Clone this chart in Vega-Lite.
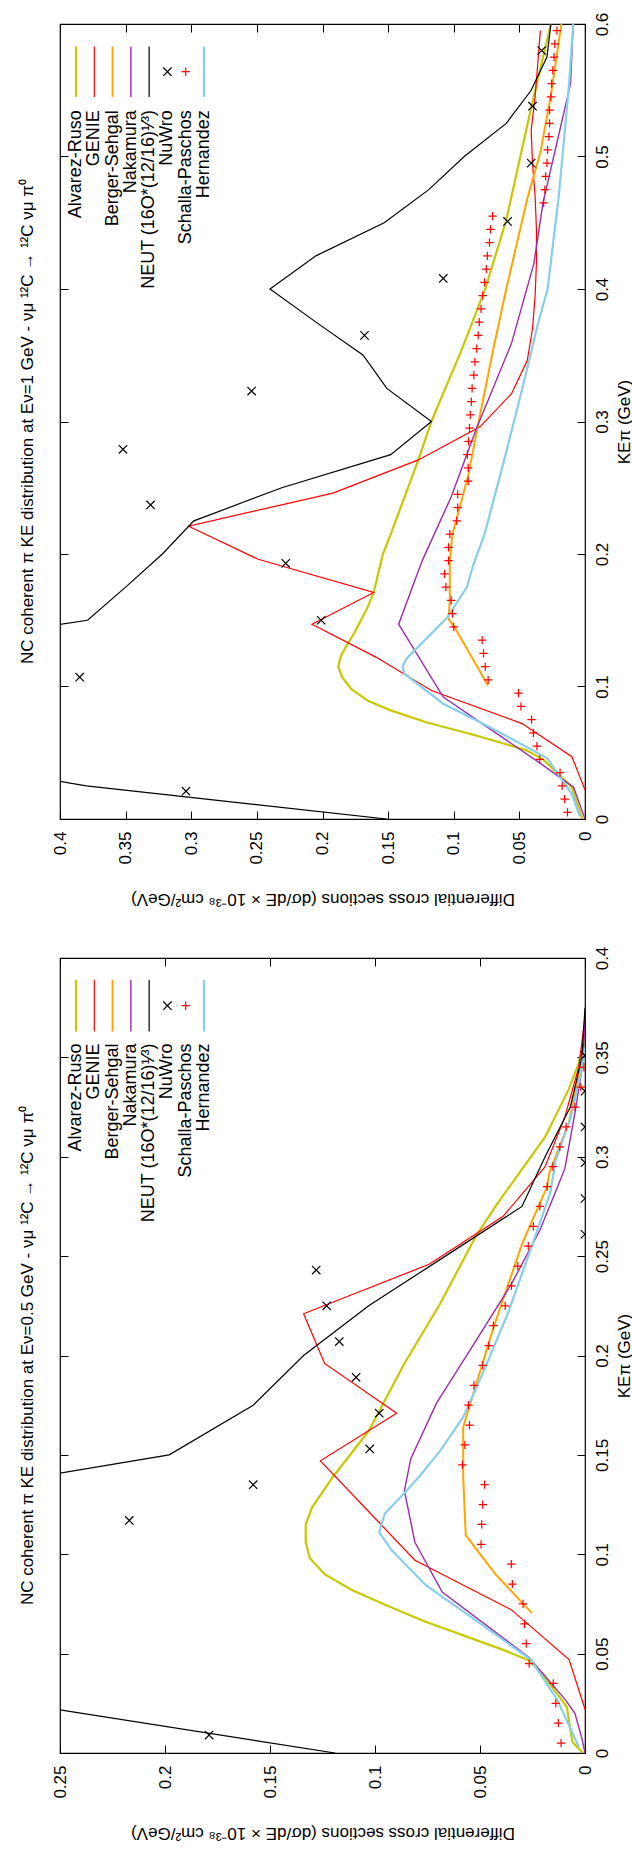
{
"$schema": "https://vega.github.io/schema/vega-lite/v6.json",
"padding": {"left": 18, "top": 11, "right": 0, "bottom": 0},
"spacing": 37,
"config": {
  "font": "Liberation Sans",
  "view": {"stroke": "black", "strokeWidth": 1.2},
  "axis": {"grid": false, "domain": false, "labelFontSize": 17, "titleFontSize": 17, "labelColor": "black", "titleColor": "black", "titleFontWeight": "normal", "tickColor": "black", "tickSize": -8, "tickWidth": 1, "labelFlush": false, "labelOverlap": false, "labelBound": false, "labelFont": "Liberation Sans", "titleFont": "Liberation Sans"},
  "title": {"fontSize": 17, "fontWeight": "normal", "color": "black", "font": "Liberation Sans"},
  "text": {"font": "Liberation Sans", "color": "black"}
},
"datasets": {
"leg": [{"m":"Alvarez-Ruso"},{"m":"GENIE"},{"m":"Berger-Sehgal"},{"m":"Nakamura"},{"m":"NEUT (16O*(12/16)¹⁄³)"},{"m":"NuWro"},{"m":"Schalla-Paschos"},{"m":"Hernandez"}],
"e1": [
{"m":"Alvarez-Ruso","ke":0,"xs":0.002},{"m":"Alvarez-Ruso","ke":0.024,"xs":0.010},{"m":"Alvarez-Ruso","ke":0.045,"xs":0.032},{"m":"Alvarez-Ruso","ke":0.052,"xs":0.045},{"m":"Alvarez-Ruso","ke":0.063,"xs":0.083},{"m":"Alvarez-Ruso","ke":0.073,"xs":0.121},{"m":"Alvarez-Ruso","ke":0.082,"xs":0.148},{"m":"Alvarez-Ruso","ke":0.089,"xs":0.165},{"m":"Alvarez-Ruso","ke":0.098,"xs":0.178},{"m":"Alvarez-Ruso","ke":0.107,"xs":0.185},{"m":"Alvarez-Ruso","ke":0.115,"xs":0.188},{"m":"Alvarez-Ruso","ke":0.123,"xs":0.186},{"m":"Alvarez-Ruso","ke":0.132,"xs":0.181},{"m":"Alvarez-Ruso","ke":0.14,"xs":0.176},{"m":"Alvarez-Ruso","ke":0.159,"xs":0.166},{"m":"Alvarez-Ruso","ke":0.171,"xs":0.161},{"m":"Alvarez-Ruso","ke":0.2,"xs":0.154},{"m":"Alvarez-Ruso","ke":0.215,"xs":0.148},{"m":"Alvarez-Ruso","ke":0.271,"xs":0.127},{"m":"Alvarez-Ruso","ke":0.3,"xs":0.117},{"m":"Alvarez-Ruso","ke":0.319,"xs":0.109},{"m":"Alvarez-Ruso","ke":0.354,"xs":0.094},{"m":"Alvarez-Ruso","ke":0.4,"xs":0.076},{"m":"Alvarez-Ruso","ke":0.452,"xs":0.060},{"m":"Alvarez-Ruso","ke":0.537,"xs":0.041},{"m":"Alvarez-Ruso","ke":0.6,"xs":0.026},
{"m":"GENIE","ke":0.022,"xs":0},{"m":"GENIE","ke":0.047,"xs":0.010},{"m":"GENIE","ke":0.072,"xs":0.048},{"m":"GENIE","ke":0.097,"xs":0.117},{"m":"GENIE","ke":0.122,"xs":0.159},{"m":"GENIE","ke":0.147,"xs":0.208},{"m":"GENIE","ke":0.171,"xs":0.161},{"m":"GENIE","ke":0.196,"xs":0.249},{"m":"GENIE","ke":0.221,"xs":0.302},{"m":"GENIE","ke":0.246,"xs":0.192},{"m":"GENIE","ke":0.271,"xs":0.127},{"m":"GENIE","ke":0.296,"xs":0.080},{"m":"GENIE","ke":0.321,"xs":0.056},{"m":"GENIE","ke":0.346,"xs":0.044},{"m":"GENIE","ke":0.37,"xs":0.040},{"m":"GENIE","ke":0.395,"xs":0.038},{"m":"GENIE","ke":0.42,"xs":0.037},{"m":"GENIE","ke":0.445,"xs":0.037},{"m":"GENIE","ke":0.47,"xs":0.038},{"m":"GENIE","ke":0.495,"xs":0.040},{"m":"GENIE","ke":0.52,"xs":0.041},{"m":"GENIE","ke":0.545,"xs":0.038},{"m":"GENIE","ke":0.57,"xs":0.036},{"m":"GENIE","ke":0.595,"xs":0.034},
{"m":"Berger-Sehgal","ke":0.101,"xs":0.074},{"m":"Berger-Sehgal","ke":0.145,"xs":0.0996},{"m":"Berger-Sehgal","ke":0.151,"xs":0.104},{"m":"Berger-Sehgal","ke":0.165,"xs":0.103},{"m":"Berger-Sehgal","ke":0.195,"xs":0.103},{"m":"Berger-Sehgal","ke":0.215,"xs":0.101},{"m":"Berger-Sehgal","ke":0.259,"xs":0.089},{"m":"Berger-Sehgal","ke":0.3,"xs":0.081},{"m":"Berger-Sehgal","ke":0.354,"xs":0.070},{"m":"Berger-Sehgal","ke":0.4,"xs":0.060},{"m":"Berger-Sehgal","ke":0.468,"xs":0.044},{"m":"Berger-Sehgal","ke":0.503,"xs":0.034},{"m":"Berger-Sehgal","ke":0.546,"xs":0.026},{"m":"Berger-Sehgal","ke":0.6,"xs":0.018},
{"m":"Nakamura","ke":0,"xs":0},{"m":"Nakamura","ke":0.024,"xs":0.0087},{"m":"Nakamura","ke":0.042,"xs":0.034},{"m":"Nakamura","ke":0.092,"xs":0.108},{"m":"Nakamura","ke":0.147,"xs":0.142},{"m":"Nakamura","ke":0.195,"xs":0.124},{"m":"Nakamura","ke":0.243,"xs":0.102},{"m":"Nakamura","ke":0.294,"xs":0.083},{"m":"Nakamura","ke":0.359,"xs":0.056},{"m":"Nakamura","ke":0.419,"xs":0.039},{"m":"Nakamura","ke":0.465,"xs":0.032},{"m":"Nakamura","ke":0.555,"xs":0.011},{"m":"Nakamura","ke":0.6,"xs":0.009},
{"m":"NEUT (16O*(12/16)¹⁄³)","ke":0,"xs":0.151},{"m":"NEUT (16O*(12/16)¹⁄³)","ke":0.025,"xs":0.38},{"m":"NEUT (16O*(12/16)¹⁄³)","ke":0.05,"xs":0.53},{"m":"NEUT (16O*(12/16)¹⁄³)","ke":0.075,"xs":0.6},{"m":"NEUT (16O*(12/16)¹⁄³)","ke":0.1,"xs":0.6},{"m":"NEUT (16O*(12/16)¹⁄³)","ke":0.125,"xs":0.55},{"m":"NEUT (16O*(12/16)¹⁄³)","ke":0.15,"xs":0.379},{"m":"NEUT (16O*(12/16)¹⁄³)","ke":0.175,"xs":0.35},{"m":"NEUT (16O*(12/16)¹⁄³)","ke":0.2,"xs":0.322},{"m":"NEUT (16O*(12/16)¹⁄³)","ke":0.225,"xs":0.298},{"m":"NEUT (16O*(12/16)¹⁄³)","ke":0.25,"xs":0.231},{"m":"NEUT (16O*(12/16)¹⁄³)","ke":0.275,"xs":0.148},{"m":"NEUT (16O*(12/16)¹⁄³)","ke":0.3,"xs":0.117},{"m":"NEUT (16O*(12/16)¹⁄³)","ke":0.325,"xs":0.151},{"m":"NEUT (16O*(12/16)¹⁄³)","ke":0.35,"xs":0.169},{"m":"NEUT (16O*(12/16)¹⁄³)","ke":0.375,"xs":0.205},{"m":"NEUT (16O*(12/16)¹⁄³)","ke":0.4,"xs":0.240},{"m":"NEUT (16O*(12/16)¹⁄³)","ke":0.425,"xs":0.205},{"m":"NEUT (16O*(12/16)¹⁄³)","ke":0.45,"xs":0.153},{"m":"NEUT (16O*(12/16)¹⁄³)","ke":0.475,"xs":0.119},{"m":"NEUT (16O*(12/16)¹⁄³)","ke":0.5,"xs":0.092},{"m":"NEUT (16O*(12/16)¹⁄³)","ke":0.525,"xs":0.060},{"m":"NEUT (16O*(12/16)¹⁄³)","ke":0.55,"xs":0.041},{"m":"NEUT (16O*(12/16)¹⁄³)","ke":0.575,"xs":0.029},{"m":"NEUT (16O*(12/16)¹⁄³)","ke":0.6,"xs":0.026},
{"m":"NuWro","ke":0.021,"xs":0.304},{"m":"NuWro","ke":0.107,"xs":0.385},{"m":"NuWro","ke":0.150,"xs":0.201},{"m":"NuWro","ke":0.193,"xs":0.228},{"m":"NuWro","ke":0.237,"xs":0.331},{"m":"NuWro","ke":0.279,"xs":0.352},{"m":"NuWro","ke":0.323,"xs":0.254},{"m":"NuWro","ke":0.365,"xs":0.168},{"m":"NuWro","ke":0.408,"xs":0.108},{"m":"NuWro","ke":0.451,"xs":0.059},{"m":"NuWro","ke":0.495,"xs":0.041},{"m":"NuWro","ke":0.538,"xs":0.040},{"m":"NuWro","ke":0.580,"xs":0.033},
{"m":"Schalla-Paschos","ke":0.005,"xs":0.0133},{"m":"Schalla-Paschos","ke":0.015,"xs":0.0155},{"m":"Schalla-Paschos","ke":0.025,"xs":0.0174},{"m":"Schalla-Paschos","ke":0.035,"xs":0.019},{"m":"Schalla-Paschos","ke":0.045,"xs":0.0345},{"m":"Schalla-Paschos","ke":0.055,"xs":0.0366},{"m":"Schalla-Paschos","ke":0.065,"xs":0.0393},{"m":"Schalla-Paschos","ke":0.075,"xs":0.0407},{"m":"Schalla-Paschos","ke":0.085,"xs":0.0488},{"m":"Schalla-Paschos","ke":0.095,"xs":0.0507},{"m":"Schalla-Paschos","ke":0.105,"xs":0.0738},{"m":"Schalla-Paschos","ke":0.115,"xs":0.076},{"m":"Schalla-Paschos","ke":0.125,"xs":0.0773},{"m":"Schalla-Paschos","ke":0.135,"xs":0.0784},{"m":"Schalla-Paschos","ke":0.145,"xs":0.100},{"m":"Schalla-Paschos","ke":0.155,"xs":0.101},{"m":"Schalla-Paschos","ke":0.165,"xs":0.102},{"m":"Schalla-Paschos","ke":0.175,"xs":0.106},{"m":"Schalla-Paschos","ke":0.185,"xs":0.107},{"m":"Schalla-Paschos","ke":0.195,"xs":0.104},{"m":"Schalla-Paschos","ke":0.205,"xs":0.104},{"m":"Schalla-Paschos","ke":0.215,"xs":0.103},{"m":"Schalla-Paschos","ke":0.225,"xs":0.0977},{"m":"Schalla-Paschos","ke":0.235,"xs":0.097},{"m":"Schalla-Paschos","ke":0.245,"xs":0.097},{"m":"Schalla-Paschos","ke":0.255,"xs":0.089},{"m":"Schalla-Paschos","ke":0.265,"xs":0.089},{"m":"Schalla-Paschos","ke":0.275,"xs":0.0896},{"m":"Schalla-Paschos","ke":0.285,"xs":0.0887},{"m":"Schalla-Paschos","ke":0.295,"xs":0.088},{"m":"Schalla-Paschos","ke":0.305,"xs":0.0874},{"m":"Schalla-Paschos","ke":0.315,"xs":0.0866},{"m":"Schalla-Paschos","ke":0.325,"xs":0.086},{"m":"Schalla-Paschos","ke":0.335,"xs":0.0847},{"m":"Schalla-Paschos","ke":0.345,"xs":0.0839},{"m":"Schalla-Paschos","ke":0.355,"xs":0.0825},{"m":"Schalla-Paschos","ke":0.365,"xs":0.0814},{"m":"Schalla-Paschos","ke":0.375,"xs":0.0806},{"m":"Schalla-Paschos","ke":0.385,"xs":0.0792},{"m":"Schalla-Paschos","ke":0.395,"xs":0.0779},{"m":"Schalla-Paschos","ke":0.405,"xs":0.0765},{"m":"Schalla-Paschos","ke":0.415,"xs":0.0752},{"m":"Schalla-Paschos","ke":0.425,"xs":0.0744},{"m":"Schalla-Paschos","ke":0.435,"xs":0.0728},{"m":"Schalla-Paschos","ke":0.445,"xs":0.072},{"m":"Schalla-Paschos","ke":0.455,"xs":0.0704},{"m":"Schalla-Paschos","ke":0.465,"xs":0.0315},{"m":"Schalla-Paschos","ke":0.475,"xs":0.0306},{"m":"Schalla-Paschos","ke":0.485,"xs":0.030},{"m":"Schalla-Paschos","ke":0.495,"xs":0.029},{"m":"Schalla-Paschos","ke":0.505,"xs":0.0285},{"m":"Schalla-Paschos","ke":0.515,"xs":0.0275},{"m":"Schalla-Paschos","ke":0.525,"xs":0.027},{"m":"Schalla-Paschos","ke":0.535,"xs":0.027},{"m":"Schalla-Paschos","ke":0.545,"xs":0.026},{"m":"Schalla-Paschos","ke":0.555,"xs":0.0254},{"m":"Schalla-Paschos","ke":0.565,"xs":0.0245},{"m":"Schalla-Paschos","ke":0.575,"xs":0.0236},{"m":"Schalla-Paschos","ke":0.585,"xs":0.023},{"m":"Schalla-Paschos","ke":0.595,"xs":0.0214},
{"m":"Hernandez","ke":0.002,"xs":0.004},{"m":"Hernandez","ke":0.019,"xs":0.010},{"m":"Hernandez","ke":0.046,"xs":0.029},{"m":"Hernandez","ke":0.052,"xs":0.040},{"m":"Hernandez","ke":0.0705,"xs":0.075},{"m":"Hernandez","ke":0.087,"xs":0.108},{"m":"Hernandez","ke":0.1096,"xs":0.1376},{"m":"Hernandez","ke":0.115,"xs":0.139},{"m":"Hernandez","ke":0.121,"xs":0.136},{"m":"Hernandez","ke":0.152,"xs":0.105},{"m":"Hernandez","ke":0.175,"xs":0.090},{"m":"Hernandez","ke":0.193,"xs":0.0847},{"m":"Hernandez","ke":0.215,"xs":0.0765},{"m":"Hernandez","ke":0.271,"xs":0.0616},{"m":"Hernandez","ke":0.324,"xs":0.048},{"m":"Hernandez","ke":0.374,"xs":0.0358},{"m":"Hernandez","ke":0.4,"xs":0.0285},{"m":"Hernandez","ke":0.47,"xs":0.020},{"m":"Hernandez","ke":0.556,"xs":0.012},{"m":"Hernandez","ke":0.6,"xs":0.009}
],
"e05": [
{"m":"Alvarez-Ruso","ke":0,"xs":0.001},{"m":"Alvarez-Ruso","ke":0.0055,"xs":0.006},{"m":"Alvarez-Ruso","ke":0.023,"xs":0.0086},{"m":"Alvarez-Ruso","ke":0.028,"xs":0.012},{"m":"Alvarez-Ruso","ke":0.039,"xs":0.0198},{"m":"Alvarez-Ruso","ke":0.0466,"xs":0.0266},{"m":"Alvarez-Ruso","ke":0.052,"xs":0.0393},{"m":"Alvarez-Ruso","ke":0.0667,"xs":0.0775},{"m":"Alvarez-Ruso","ke":0.075,"xs":0.096},{"m":"Alvarez-Ruso","ke":0.082,"xs":0.111},{"m":"Alvarez-Ruso","ke":0.09,"xs":0.124},{"m":"Alvarez-Ruso","ke":0.098,"xs":0.131},{"m":"Alvarez-Ruso","ke":0.106,"xs":0.133},{"m":"Alvarez-Ruso","ke":0.115,"xs":0.133},{"m":"Alvarez-Ruso","ke":0.1235,"xs":0.130},{"m":"Alvarez-Ruso","ke":0.139,"xs":0.120},{"m":"Alvarez-Ruso","ke":0.162,"xs":0.103},{"m":"Alvarez-Ruso","ke":0.196,"xs":0.086},{"m":"Alvarez-Ruso","ke":0.226,"xs":0.069},{"m":"Alvarez-Ruso","ke":0.26,"xs":0.052},{"m":"Alvarez-Ruso","ke":0.276,"xs":0.042},{"m":"Alvarez-Ruso","ke":0.31,"xs":0.019},{"m":"Alvarez-Ruso","ke":0.334,"xs":0.0077},{"m":"Alvarez-Ruso","ke":0.347,"xs":0.003},{"m":"Alvarez-Ruso","ke":0.359,"xs":0},
{"m":"GENIE","ke":0.022,"xs":0},{"m":"GENIE","ke":0.047,"xs":0.0076},{"m":"GENIE","ke":0.072,"xs":0.035},{"m":"GENIE","ke":0.097,"xs":0.081},{"m":"GENIE","ke":0.122,"xs":0.1035},{"m":"GENIE","ke":0.147,"xs":0.126},{"m":"GENIE","ke":0.171,"xs":0.0897},{"m":"GENIE","ke":0.196,"xs":0.124},{"m":"GENIE","ke":0.221,"xs":0.134},{"m":"GENIE","ke":0.246,"xs":0.074},{"m":"GENIE","ke":0.27,"xs":0.039},{"m":"GENIE","ke":0.295,"xs":0.019},{"m":"GENIE","ke":0.32,"xs":0.0096},{"m":"GENIE","ke":0.345,"xs":0.003},{"m":"GENIE","ke":0.37,"xs":0},
{"m":"Berger-Sehgal","ke":0.0704,"xs":0.0253},{"m":"Berger-Sehgal","ke":0.09,"xs":0.0427},{"m":"Berger-Sehgal","ke":0.1096,"xs":0.0568},{"m":"Berger-Sehgal","ke":0.139,"xs":0.058},{"m":"Berger-Sehgal","ke":0.164,"xs":0.058},{"m":"Berger-Sehgal","ke":0.171,"xs":0.056},{"m":"Berger-Sehgal","ke":0.214,"xs":0.0436},{"m":"Berger-Sehgal","ke":0.256,"xs":0.030},{"m":"Berger-Sehgal","ke":0.285,"xs":0.018},{"m":"Berger-Sehgal","ke":0.292,"xs":0.017},{"m":"Berger-Sehgal","ke":0.317,"xs":0.0077},{"m":"Berger-Sehgal","ke":0.342,"xs":0.003},{"m":"Berger-Sehgal","ke":0.355,"xs":0},
{"m":"Nakamura","ke":0,"xs":0},{"m":"Nakamura","ke":0.007,"xs":0.0014},{"m":"Nakamura","ke":0.020,"xs":0.0048},{"m":"Nakamura","ke":0.027,"xs":0.0095},{"m":"Nakamura","ke":0.048,"xs":0.0266},{"m":"Nakamura","ke":0.081,"xs":0.068},{"m":"Nakamura","ke":0.106,"xs":0.081},{"m":"Nakamura","ke":0.132,"xs":0.086},{"m":"Nakamura","ke":0.148,"xs":0.083},{"m":"Nakamura","ke":0.176,"xs":0.0707},{"m":"Nakamura","ke":0.204,"xs":0.054},{"m":"Nakamura","ke":0.236,"xs":0.035},{"m":"Nakamura","ke":0.263,"xs":0.0215},{"m":"Nakamura","ke":0.285,"xs":0.013},{"m":"Nakamura","ke":0.294,"xs":0.0096},{"m":"Nakamura","ke":0.322,"xs":0.0048},{"m":"Nakamura","ke":0.347,"xs":0.001},{"m":"Nakamura","ke":0.369,"xs":0},
{"m":"NEUT (16O*(12/16)¹⁄³)","ke":0,"xs":0.119},{"m":"NEUT (16O*(12/16)¹⁄³)","ke":0.025,"xs":0.27},{"m":"NEUT (16O*(12/16)¹⁄³)","ke":0.05,"xs":0.4},{"m":"NEUT (16O*(12/16)¹⁄³)","ke":0.075,"xs":0.45},{"m":"NEUT (16O*(12/16)¹⁄³)","ke":0.1,"xs":0.45},{"m":"NEUT (16O*(12/16)¹⁄³)","ke":0.125,"xs":0.34},{"m":"NEUT (16O*(12/16)¹⁄³)","ke":0.15,"xs":0.198},{"m":"NEUT (16O*(12/16)¹⁄³)","ke":0.175,"xs":0.158},{"m":"NEUT (16O*(12/16)¹⁄³)","ke":0.2,"xs":0.134},{"m":"NEUT (16O*(12/16)¹⁄³)","ke":0.225,"xs":0.103},{"m":"NEUT (16O*(12/16)¹⁄³)","ke":0.25,"xs":0.0665},{"m":"NEUT (16O*(12/16)¹⁄³)","ke":0.275,"xs":0.030},{"m":"NEUT (16O*(12/16)¹⁄³)","ke":0.3,"xs":0.019},{"m":"NEUT (16O*(12/16)¹⁄³)","ke":0.325,"xs":0.007},{"m":"NEUT (16O*(12/16)¹⁄³)","ke":0.35,"xs":0.0015},{"m":"NEUT (16O*(12/16)¹⁄³)","ke":0.375,"xs":0},
{"m":"NuWro","ke":0.009,"xs":0.179},{"m":"NuWro","ke":0.117,"xs":0.217},{"m":"NuWro","ke":0.135,"xs":0.158},{"m":"NuWro","ke":0.153,"xs":0.1025},{"m":"NuWro","ke":0.171,"xs":0.098},{"m":"NuWro","ke":0.189,"xs":0.109},{"m":"NuWro","ke":0.207,"xs":0.117},{"m":"NuWro","ke":0.225,"xs":0.123},{"m":"NuWro","ke":0.243,"xs":0.128},{"m":"NuWro","ke":0.261,"xs":0},{"m":"NuWro","ke":0.279,"xs":0},{"m":"NuWro","ke":0.297,"xs":0},{"m":"NuWro","ke":0.315,"xs":0},{"m":"NuWro","ke":0.333,"xs":0},{"m":"NuWro","ke":0.351,"xs":0},
{"m":"Schalla-Paschos","ke":0.005,"xs":0.0114},{"m":"Schalla-Paschos","ke":0.015,"xs":0.0127},{"m":"Schalla-Paschos","ke":0.025,"xs":0.0139},{"m":"Schalla-Paschos","ke":0.035,"xs":0.0151},{"m":"Schalla-Paschos","ke":0.045,"xs":0.0266},{"m":"Schalla-Paschos","ke":0.055,"xs":0.028},{"m":"Schalla-Paschos","ke":0.065,"xs":0.0288},{"m":"Schalla-Paschos","ke":0.075,"xs":0.0295},{"m":"Schalla-Paschos","ke":0.085,"xs":0.0346},{"m":"Schalla-Paschos","ke":0.095,"xs":0.0351},{"m":"Schalla-Paschos","ke":0.105,"xs":0.0495},{"m":"Schalla-Paschos","ke":0.115,"xs":0.0492},{"m":"Schalla-Paschos","ke":0.125,"xs":0.0487},{"m":"Schalla-Paschos","ke":0.135,"xs":0.0478},{"m":"Schalla-Paschos","ke":0.145,"xs":0.0584},{"m":"Schalla-Paschos","ke":0.155,"xs":0.0572},{"m":"Schalla-Paschos","ke":0.165,"xs":0.055},{"m":"Schalla-Paschos","ke":0.175,"xs":0.0555},{"m":"Schalla-Paschos","ke":0.185,"xs":0.0529},{"m":"Schalla-Paschos","ke":0.195,"xs":0.0487},{"m":"Schalla-Paschos","ke":0.205,"xs":0.0458},{"m":"Schalla-Paschos","ke":0.215,"xs":0.0436},{"m":"Schalla-Paschos","ke":0.225,"xs":0.038},{"m":"Schalla-Paschos","ke":0.235,"xs":0.035},{"m":"Schalla-Paschos","ke":0.245,"xs":0.032},{"m":"Schalla-Paschos","ke":0.255,"xs":0.027},{"m":"Schalla-Paschos","ke":0.265,"xs":0.0246},{"m":"Schalla-Paschos","ke":0.275,"xs":0.0215},{"m":"Schalla-Paschos","ke":0.285,"xs":0.018},{"m":"Schalla-Paschos","ke":0.295,"xs":0.0153},{"m":"Schalla-Paschos","ke":0.305,"xs":0.012},{"m":"Schalla-Paschos","ke":0.315,"xs":0.009},{"m":"Schalla-Paschos","ke":0.325,"xs":0.0048},{"m":"Schalla-Paschos","ke":0.335,"xs":0.002},{"m":"Schalla-Paschos","ke":0.345,"xs":0.0005},
{"m":"Hernandez","ke":0.003,"xs":0.0029},{"m":"Hernandez","ke":0.027,"xs":0.0133},{"m":"Hernandez","ke":0.047,"xs":0.0258},{"m":"Hernandez","ke":0.0667,"xs":0.052},{"m":"Hernandez","ke":0.0844,"xs":0.0758},{"m":"Hernandez","ke":0.102,"xs":0.092},{"m":"Hernandez","ke":0.111,"xs":0.098},{"m":"Hernandez","ke":0.1205,"xs":0.0953},{"m":"Hernandez","ke":0.132,"xs":0.085},{"m":"Hernandez","ke":0.139,"xs":0.079},{"m":"Hernandez","ke":0.152,"xs":0.069},{"m":"Hernandez","ke":0.169,"xs":0.058},{"m":"Hernandez","ke":0.191,"xs":0.0487},{"m":"Hernandez","ke":0.221,"xs":0.0368},{"m":"Hernandez","ke":0.256,"xs":0.025},{"m":"Hernandez","ke":0.282,"xs":0.0165},{"m":"Hernandez","ke":0.298,"xs":0.014},{"m":"Hernandez","ke":0.32,"xs":0.0067},{"m":"Hernandez","ke":0.342,"xs":0.002},{"m":"Hernandez","ke":0.355,"xs":0}
]
},
"vconcat": [
{
  "width": 525, "height": 795,
  "title": {"text": "NC coherent π KE distribution at Eν=1 GeV - νμ ¹²C → ¹²C νμ π⁰", "orient": "left", "anchor": "middle", "offset": 14},
  "layer": [
    {
      "data": {"name": "e1"},
      "layer": [
        {
          "transform": [{"filter": "datum.m != 'NuWro' && datum.m != 'Schalla-Paschos'"}],
          "mark": {"type": "line", "clip": true},
          "encoding": {
            "x": {"field": "xs", "type": "quantitative", "scale": {"domain": [0, 0.4], "reverse": true, "nice": false, "zero": false},
                  "axis": {"orient": "bottom", "values": [0,0.05,0.1,0.15,0.2,0.25,0.3,0.35,0.4], "format": "~g", "labelAngle": 270, "labelAlign": "right", "labelBaseline": "middle", "labelPadding": 20, "title": "Differential cross sections (dσ/dE × 10⁻³⁸ cm²/GeV)", "titleAngle": 180, "titleBaseline": "bottom", "titlePadding": 25}},
            "y": {"field": "ke", "type": "quantitative", "scale": {"domain": [0, 0.6], "nice": false, "zero": false},
                  "axis": {"orient": "right", "values": [0,0.1,0.2,0.3,0.4,0.5,0.6], "format": "~g", "labelAngle": 270, "labelAlign": "center", "labelBaseline": "top", "labelPadding": 17, "title": "KEπ (GeV)", "titleAngle": 270, "titleBaseline": "top", "titlePadding": 6}},
            "order": {"field": "ke", "type": "quantitative"},
            "color": {"field": "m", "type": "nominal", "legend": null, "scale": {"domain": ["Alvarez-Ruso","GENIE","Berger-Sehgal","Nakamura","NEUT (16O*(12/16)¹⁄³)","NuWro","Schalla-Paschos","Hernandez"], "range": ["#c8c800","#ff0000","#ffa500","#9b2ca8","#000000","#000000","#ff0000","#87ceeb"]}},
            "strokeWidth": {"field": "m", "type": "nominal", "legend": null, "scale": {"type": "ordinal", "domain": ["Alvarez-Ruso","GENIE","Berger-Sehgal","Nakamura","NEUT (16O*(12/16)¹⁄³)","NuWro","Schalla-Paschos","Hernandez"], "range": [2.2,1.2,2,1.4,1.2,1,1,2.2]}}
          }
        },
        {
          "transform": [{"filter": "datum.m == 'NuWro' || datum.m == 'Schalla-Paschos'"}],
          "mark": {"type": "point", "clip": true, "filled": false, "size": 70, "strokeWidth": 1.2, "opacity": 1},
          "encoding": {
            "x": {"field": "xs", "type": "quantitative", "axis": {"orient": "top", "values": [0,0.05,0.1,0.15,0.2,0.25,0.3,0.35,0.4], "labels": false, "title": null}},
            "y": {"field": "ke", "type": "quantitative", "axis": {"orient": "left", "values": [0,0.1,0.2,0.3,0.4,0.5,0.6], "labels": false, "title": null}},
            "color": {"field": "m", "type": "nominal", "legend": null, "scale": {"domain": ["Alvarez-Ruso","GENIE","Berger-Sehgal","Nakamura","NEUT (16O*(12/16)¹⁄³)","NuWro","Schalla-Paschos","Hernandez"], "range": ["#c8c800","#ff0000","#ffa500","#9b2ca8","#000000","#000000","#ff0000","#87ceeb"]}},
            "shape": {"field": "m", "type": "nominal", "legend": null, "scale": {"domain": ["NuWro","Schalla-Paschos"], "range": ["M-1,-1L1,1M-1,1L1,-1","M-1,0L1,0M0,-1L0,1"]}}
          }
        }
      ],
      "resolve": {"axis": {"x": "independent", "y": "independent"}}
    },
    {
      "data": {"name": "leg"},
      "layer": [
        {
          "transform": [{"filter": "datum.m != 'NuWro' && datum.m != 'Schalla-Paschos'"}],
          "mark": {"type": "rule"},
          "encoding": {
            "x": {"field": "m", "type": "nominal", "axis": null, "scale": {"type": "point", "padding": 0, "range": [16, 144], "domain": ["Alvarez-Ruso","GENIE","Berger-Sehgal","Nakamura","NEUT (16O*(12/16)¹⁄³)","NuWro","Schalla-Paschos","Hernandez"]}},
            "y": {"datum": 0.583, "type": "quantitative", "axis": null, "scale": {"domain": [0, 0.6], "nice": false, "zero": false}},
            "y2": {"datum": 0.545},
            "color": {"field": "m", "type": "nominal", "legend": null, "scale": {"domain": ["Alvarez-Ruso","GENIE","Berger-Sehgal","Nakamura","NEUT (16O*(12/16)¹⁄³)","NuWro","Schalla-Paschos","Hernandez"], "range": ["#c8c800","#ff0000","#ffa500","#9b2ca8","#000000","#000000","#ff0000","#87ceeb"]}},
            "strokeWidth": {"field": "m", "type": "nominal", "legend": null, "scale": {"type": "ordinal", "domain": ["Alvarez-Ruso","GENIE","Berger-Sehgal","Nakamura","NEUT (16O*(12/16)¹⁄³)","NuWro","Schalla-Paschos","Hernandez"], "range": [2.2,1.2,2,1.4,1.2,1,1,2.2]}}
          }
        },
        {
          "transform": [{"filter": "datum.m == 'NuWro' || datum.m == 'Schalla-Paschos'"}],
          "mark": {"type": "point", "filled": false, "size": 70, "strokeWidth": 1.2, "opacity": 1},
          "encoding": {
            "x": {"field": "m", "type": "nominal", "axis": null},
            "y": {"datum": 0.564, "type": "quantitative", "axis": null},
            "color": {"field": "m", "type": "nominal", "legend": null, "scale": {"domain": ["Alvarez-Ruso","GENIE","Berger-Sehgal","Nakamura","NEUT (16O*(12/16)¹⁄³)","NuWro","Schalla-Paschos","Hernandez"], "range": ["#c8c800","#ff0000","#ffa500","#9b2ca8","#000000","#000000","#ff0000","#87ceeb"]}},
            "shape": {"field": "m", "type": "nominal", "legend": null, "scale": {"domain": ["NuWro","Schalla-Paschos"], "range": ["M-1,-1L1,1M-1,1L1,-1","M-1,0L1,0M0,-1L0,1"]}}
          }
        },
        {
          "mark": {"type": "text", "angle": 270, "align": "right", "baseline": "middle", "fontSize": 18},
          "encoding": {
            "x": {"field": "m", "type": "nominal", "axis": null},
            "y": {"datum": 0.535, "type": "quantitative", "axis": null},
            "text": {"field": "m"}
          }
        }
      ]
    }
  ],
  "resolve": {"scale": {"x": "independent"}, "axis": {"x": "independent", "y": "independent"}}
},
{
  "width": 525, "height": 795,
  "title": {"text": "NC coherent π KE distribution at Eν=0.5 GeV - νμ ¹²C → ¹²C νμ π⁰", "orient": "left", "anchor": "middle", "offset": 14},
  "layer": [
    {
      "data": {"name": "e05"},
      "layer": [
        {
          "transform": [{"filter": "datum.m != 'NuWro' && datum.m != 'Schalla-Paschos'"}],
          "mark": {"type": "line", "clip": true},
          "encoding": {
            "x": {"field": "xs", "type": "quantitative", "scale": {"domain": [0, 0.25], "reverse": true, "nice": false, "zero": false},
                  "axis": {"orient": "bottom", "values": [0,0.05,0.1,0.15,0.2,0.25], "format": "~g", "labelAngle": 270, "labelAlign": "right", "labelBaseline": "middle", "labelPadding": 20, "title": "Differential cross sections (dσ/dE × 10⁻³⁸ cm²/GeV)", "titleAngle": 180, "titleBaseline": "bottom", "titlePadding": 25}},
            "y": {"field": "ke", "type": "quantitative", "scale": {"domain": [0, 0.4], "nice": false, "zero": false},
                  "axis": {"orient": "right", "values": [0,0.05,0.1,0.15,0.2,0.25,0.3,0.35,0.4], "format": "~g", "labelAngle": 270, "labelAlign": "center", "labelBaseline": "top", "labelPadding": 17, "title": "KEπ (GeV)", "titleAngle": 270, "titleBaseline": "top", "titlePadding": 6}},
            "order": {"field": "ke", "type": "quantitative"},
            "color": {"field": "m", "type": "nominal", "legend": null, "scale": {"domain": ["Alvarez-Ruso","GENIE","Berger-Sehgal","Nakamura","NEUT (16O*(12/16)¹⁄³)","NuWro","Schalla-Paschos","Hernandez"], "range": ["#c8c800","#ff0000","#ffa500","#9b2ca8","#000000","#000000","#ff0000","#87ceeb"]}},
            "strokeWidth": {"field": "m", "type": "nominal", "legend": null, "scale": {"type": "ordinal", "domain": ["Alvarez-Ruso","GENIE","Berger-Sehgal","Nakamura","NEUT (16O*(12/16)¹⁄³)","NuWro","Schalla-Paschos","Hernandez"], "range": [2.2,1.2,2,1.4,1.2,1,1,2.2]}}
          }
        },
        {
          "transform": [{"filter": "datum.m == 'NuWro' || datum.m == 'Schalla-Paschos'"}],
          "mark": {"type": "point", "clip": true, "filled": false, "size": 70, "strokeWidth": 1.2, "opacity": 1},
          "encoding": {
            "x": {"field": "xs", "type": "quantitative", "axis": {"orient": "top", "values": [0,0.05,0.1,0.15,0.2,0.25], "labels": false, "title": null}},
            "y": {"field": "ke", "type": "quantitative", "axis": {"orient": "left", "values": [0,0.05,0.1,0.15,0.2,0.25,0.3,0.35,0.4], "labels": false, "title": null}},
            "color": {"field": "m", "type": "nominal", "legend": null, "scale": {"domain": ["Alvarez-Ruso","GENIE","Berger-Sehgal","Nakamura","NEUT (16O*(12/16)¹⁄³)","NuWro","Schalla-Paschos","Hernandez"], "range": ["#c8c800","#ff0000","#ffa500","#9b2ca8","#000000","#000000","#ff0000","#87ceeb"]}},
            "shape": {"field": "m", "type": "nominal", "legend": null, "scale": {"domain": ["NuWro","Schalla-Paschos"], "range": ["M-1,-1L1,1M-1,1L1,-1","M-1,0L1,0M0,-1L0,1"]}}
          }
        }
      ],
      "resolve": {"axis": {"x": "independent", "y": "independent"}}
    },
    {
      "data": {"name": "leg"},
      "layer": [
        {
          "transform": [{"filter": "datum.m != 'NuWro' && datum.m != 'Schalla-Paschos'"}],
          "mark": {"type": "rule"},
          "encoding": {
            "x": {"field": "m", "type": "nominal", "axis": null, "scale": {"type": "point", "padding": 0, "range": [16, 144], "domain": ["Alvarez-Ruso","GENIE","Berger-Sehgal","Nakamura","NEUT (16O*(12/16)¹⁄³)","NuWro","Schalla-Paschos","Hernandez"]}},
            "y": {"datum": 0.389, "type": "quantitative", "axis": null, "scale": {"domain": [0, 0.4], "nice": false, "zero": false}},
            "y2": {"datum": 0.363},
            "color": {"field": "m", "type": "nominal", "legend": null, "scale": {"domain": ["Alvarez-Ruso","GENIE","Berger-Sehgal","Nakamura","NEUT (16O*(12/16)¹⁄³)","NuWro","Schalla-Paschos","Hernandez"], "range": ["#c8c800","#ff0000","#ffa500","#9b2ca8","#000000","#000000","#ff0000","#87ceeb"]}},
            "strokeWidth": {"field": "m", "type": "nominal", "legend": null, "scale": {"type": "ordinal", "domain": ["Alvarez-Ruso","GENIE","Berger-Sehgal","Nakamura","NEUT (16O*(12/16)¹⁄³)","NuWro","Schalla-Paschos","Hernandez"], "range": [2.2,1.2,2,1.4,1.2,1,1,2.2]}}
          }
        },
        {
          "transform": [{"filter": "datum.m == 'NuWro' || datum.m == 'Schalla-Paschos'"}],
          "mark": {"type": "point", "filled": false, "size": 70, "strokeWidth": 1.2, "opacity": 1},
          "encoding": {
            "x": {"field": "m", "type": "nominal", "axis": null},
            "y": {"datum": 0.376, "type": "quantitative", "axis": null},
            "color": {"field": "m", "type": "nominal", "legend": null, "scale": {"domain": ["Alvarez-Ruso","GENIE","Berger-Sehgal","Nakamura","NEUT (16O*(12/16)¹⁄³)","NuWro","Schalla-Paschos","Hernandez"], "range": ["#c8c800","#ff0000","#ffa500","#9b2ca8","#000000","#000000","#ff0000","#87ceeb"]}},
            "shape": {"field": "m", "type": "nominal", "legend": null, "scale": {"domain": ["NuWro","Schalla-Paschos"], "range": ["M-1,-1L1,1M-1,1L1,-1","M-1,0L1,0M0,-1L0,1"]}}
          }
        },
        {
          "mark": {"type": "text", "angle": 270, "align": "right", "baseline": "middle", "fontSize": 18},
          "encoding": {
            "x": {"field": "m", "type": "nominal", "axis": null},
            "y": {"datum": 0.357, "type": "quantitative", "axis": null},
            "text": {"field": "m"}
          }
        }
      ]
    }
  ],
  "resolve": {"scale": {"x": "independent"}, "axis": {"x": "independent", "y": "independent"}}
}
]
}
